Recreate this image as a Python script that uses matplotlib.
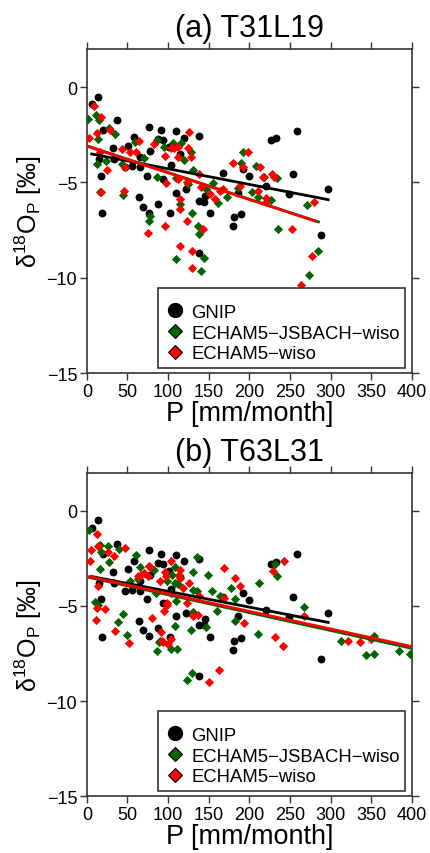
import numpy as np
import matplotlib
matplotlib.use("Agg")
import matplotlib.pyplot as plt
from matplotlib.lines import Line2D

plt.rcParams['font.family'] = ['Liberation Sans', 'DejaVu Sans']
plt.rcParams['mathtext.fontset'] = 'custom'
plt.rcParams['mathtext.rm'] = 'Liberation Sans'
plt.rcParams['mathtext.it'] = 'Liberation Sans:italic'

# GNIP observations (same in both panels)
gnip_p = [6, 14, 37, 20, 76, 91, 110, 119, 138, 58, 87, 94, 51, 32, 78, 65, 114, 34, 15, 55,
          65, 103, 74, 94, 17, 122, 110, 168, 200, 192, 221, 226, 233, 258, 254, 249, 297, 288,
          64, 69, 76, 88, 102, 19, 138, 144, 145, 152, 138, 181, 180, 190, 186, 101, 47]
gnip_d = [-0.9, -0.5, -1.75, -2.25, -2.07, -2.25, -2.3, -2.65, -2.55, -2.63, -2.74, -2.8, -3.07,
          -3.2, -3.35, -3.68, -3.5, -3.79, -3.77, -4.14, -4.2, -4.09, -4.65, -4.82, -4.65, -5.35,
          -5.54, -4.53, -4.67, -4.3, -5.2, -2.79, -2.68, -2.28, -4.54, -5.6, -5.37, -7.77, -5.79,
          -6.28, -6.58, -6.14, -6.63, -6.63, -5.98, -6.02, -5.7, -6.63, -8.7, -6.84, -7.3, -6.67,
          -5.53, -3.14, -4.2]

# (a) T31L19
jsb_a_p = [1.6, 10.7, 14.8, 27, 34.5, 59, 86.5, 95, 105.5, 115.7, 127.6, 119, 70.5, 23, 42.7, 12,
           14, 130, 85.7, 109.5, 124.7, 154.7, 147, 173, 161.6, 185.5, 189.5, 191.6, 208, 218, 234,
           202.7, 211, 227, 271, 235.5, 44, 16, 114.5, 129.6, 77.5, 76.7, 137, 138, 110, 144,
           140.7, 285, 273]
jsb_a_d = [-1.68, -1.46, -1.75, -2.16, -2.47, -2.86, -2.77, -3.12, -2.91, -2.91, -3.39, -3.82,
           -3.7, -3.88, -4.05, -4.05, -2.74, -4.35, -4.7, -4.75, -5.1, -5.02, -5.37, -5.75, -6.07,
           -5.28, -3.96, -3.39, -4.14, -4.7, -4.79, -5.49, -5.75, -5.93, -6.2, -7.47, -5.67, -5.5,
           -6.14, -6.63, -6.75, -7.03, -7.28, -7.68, -9.0, -8.96, -9.67, -8.6, -9.84]
ech_a_p = [8.6, 17, 2.5, 12.7, 28, 64, 43, 53, 61, 16, 83, 96, 103, 107, 111.6, 112, 126, 125, 128,
           25, 47, 18, 45.5, 97, 112, 123, 138, 140, 151, 157.5, 164, 167, 188, 180, 192, 198.5,
           213, 217, 228, 230, 210, 220, 220, 280, 114.5, 123.5, 96, 75.5, 143, 253, 115, 129,
           129.6, 277, 264, 114.5]
ech_a_d = [-0.98, -1.58, -2.65, -2.39, -2.25, -2.82, -3.23, -3.39, -3.42, -3.4, -2.97, -3.61,
           -3.18, -3.18, -3.12, -3.65, -2.33, -3.17, -3.65, -4.35, -4.18, -5.49, -5.44, -5.02,
           -4.82, -4.97, -4.56, -5.23, -5.63, -5.88, -5.44, -5.32, -5.18, -4.0, -4.2, -3.4, -4.18,
           -4.7, -4.58, -4.7, -5.45, -5.84, -6.05, -6.05, -6.4, -7.03, -7.3, -7.63, -7.44, -7.44,
           -8.33, -8.61, -9.51, -8.86, -10.37, -5.89]

# (b) T63L31
jsb_b_p = [2.8, 16, 25.5, 17, 40, 27, 16, 61, 66, 83, 108, 105, 53, 63, 98, 108, 130, 130, 85, 103,
           110, 10, 14, 44.7, 130, 37.8, 108, 50, 88.6, 112, 135, 149, 136, 153.5, 164, 160, 177,
           182, 182, 212, 231, 233.5, 267.5, 211, 127.6, 313, 353, 90, 86.5, 104, 111, 146.5,
           123.5, 129.6, 344, 353, 384, 397]
jsb_b_d = [-0.98, -1.77, -1.86, -2.14, -2.0, -2.67, -3.05, -2.32, -2.96, -3.09, -2.96, -3.37,
           -3.67, -3.58, -3.67, -3.79, -3.19, -4.14, -4.32, -4.32, -4.72, -4.77, -4.95, -5.42,
           -5.33, -5.86, -6.07, -6.53, -6.88, -3.84, -2.44, -3.37, -4.2, -4.23, -4.49, -5.25,
           -4.05, -4.63, -5.77, -3.79, -2.79, -3.44, -5.07, -6.47, -6.26, -6.86, -6.6, -6.86,
           -7.35, -7.26, -7.26, -6.09, -8.9, -8.54, -7.56, -7.53, -7.35, -7.53]
ech_b_p = [12.7, 5, 14, 25.5, 33.6, 46.8, 3.7, 14, 63, 67, 70.5, 75.5, 77.5, 104, 90, 97, 114.5,
           115, 96, 118.5, 122.7, 98, 95, 13, 22, 10.7, 79.6, 91, 35, 52, 94, 100, 104, 76.7,
           113.6, 125.5, 138, 169, 182, 188, 168.6, 131, 137, 193, 99, 229, 243, 267.5, 232,
           241.6, 321.6, 336, 350, 93, 163, 150.5]
ech_b_d = [-1.21, -2.04, -1.82, -2.14, -2.39, -1.96, -2.61, -3.96, -3.44, -3.37, -3.26, -3.4,
           -2.96, -2.65, -3.67, -3.4, -3.1, -3.54, -3.23, -4.07, -4.84, -4.84, -5.25, -5.12,
           -5.16, -5.72, -5.63, -6.39, -6.33, -6.95, -6.91, -7.0, -6.74, -2.88, -3.37, -3.79,
           -4.46, -3.0, -3.53, -3.96, -4.58, -5.51, -5.47, -5.91, -4.95, -3.17, -2.65, -5.51,
           -6.65, -7.09, -6.82, -6.91, -6.74, -6.86, -8.35, -9.02]

# regression lines: (slope, intercept, x start, x end)
fit_a = {'gnip': (-0.00823, -3.46, 6, 297),
         'jsb': (-0.01400, -3.08, 2, 285),
         'ech': (-0.01398, -3.10, 2, 281)}
fit_b = {'gnip': (-0.00830, -3.40, 6, 297),
         'jsb': (-0.00940, -3.47, 3, 400),
         'ech': (-0.00926, -3.43, 3, 400)}

c_gnip = 'black'
c_jsb = '#006400'
c_ech = '#ff0000'
labels = ['GNIP', 'ECHAM5\u2212JSBACH\u2212wiso', 'ECHAM5\u2212wiso']

fig = plt.figure(figsize=(4.30, 8.54), dpi=100)
ax_a = fig.add_axes([0.202, 0.562, 0.756, 0.3795])
ax_b = fig.add_axes([0.202, 0.0667, 0.756, 0.3783])

panels = [(ax_a, '(a) T31L19', jsb_a_p, jsb_a_d, ech_a_p, ech_a_d, fit_a),
          (ax_b, '(b) T63L31', jsb_b_p, jsb_b_d, ech_b_p, ech_b_d, fit_b)]

for ax, title, jp, jd, ep, ed, fit in panels:
    ax.scatter(gnip_p, gnip_d, s=32, c=c_gnip, marker='o', linewidths=0, zorder=2)
    ax.scatter(jp, jd, s=22, c=c_jsb, marker='D', linewidths=0, zorder=3)
    ax.scatter(ep, ed, s=22, c=c_ech, marker='D', linewidths=0, zorder=4)
    for key, col in [('gnip', c_gnip), ('jsb', c_jsb), ('ech', c_ech)]:
        m, b, x0, x1 = fit[key]
        xx = np.array([x0, x1])
        ax.plot(xx, m * xx + b, color=col, lw=2, zorder=5)

    ax.set_xlim(0, 400)
    ax.set_ylim(-15, 2)
    ax.set_xticks(np.arange(0, 401, 50))
    ax.set_yticks([0, -5, -10, -15])
    ax.tick_params(direction='out', length=5, width=1, labelsize=13, pad=2,
                   top=True, right=True, colors='#333333', labelcolor='black')
    for sp in ax.spines.values():
        sp.set_color('#333333')
        sp.set_linewidth(1.2)
    ax.set_title(title, fontsize=22, pad=9)
    ax.set_xlabel('P [mm/month]', fontsize=19.5, labelpad=0)
    ax.set_ylabel('\u03b4$^{18}$O$_{\\mathrm{P}}$ [\u2030]', fontsize=18, labelpad=2)

    handles = [Line2D([], [], ls='none', marker='o', ms=10, mfc=c_gnip, mec=c_gnip),
               Line2D([], [], ls='none', marker='D', ms=7, mfc=c_jsb, mec='black', mew=0.8),
               Line2D([], [], ls='none', marker='D', ms=7, mfc=c_ech, mec='black', mew=0.8)]
    leg = ax.legend(handles, labels, loc='lower right', bbox_to_anchor=(0.98, 0.016),
                    borderaxespad=0, fontsize=13.3, fancybox=False, framealpha=1,
                    edgecolor='#333333', handletextpad=0.3, labelspacing=0.2,
                    handlelength=1.2, borderpad=0.3, title=' ', title_fontsize=5)
    leg.get_frame().set_linewidth(1.2)

fig.savefig('out.png', dpi=100)
